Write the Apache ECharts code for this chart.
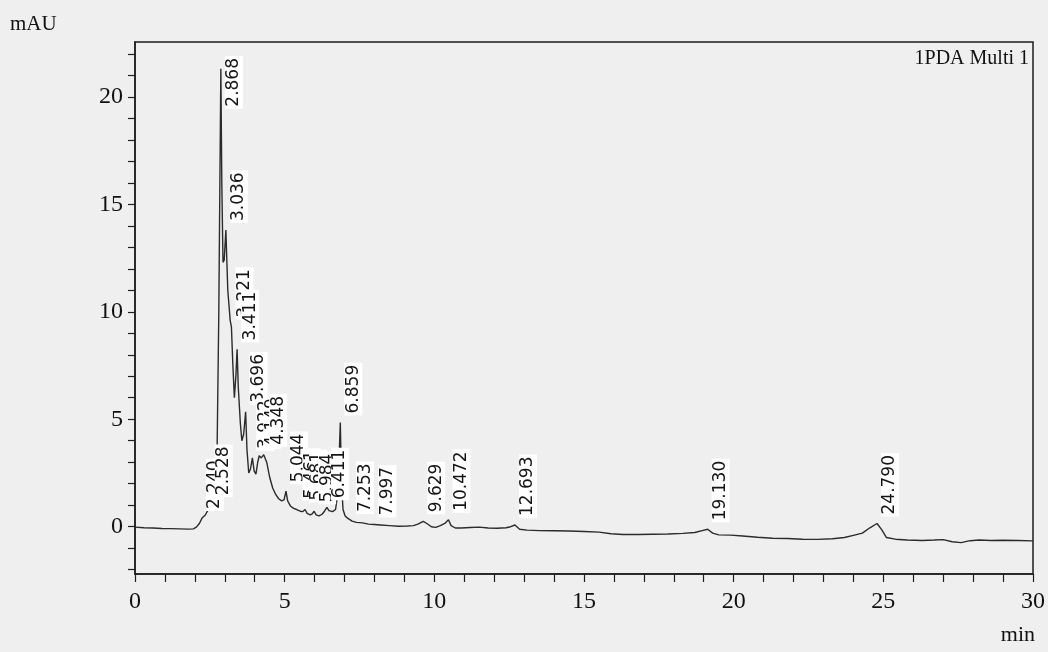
<!DOCTYPE html>
<html>
<head>
<meta charset="utf-8">
<title>1PDA Multi 1 chromatogram</title>
<script src="https://cdn.jsdelivr.net/npm/echarts@6/dist/echarts.min.js"></script>
<style>
  html, body { margin: 0; padding: 0; background: #efefef; }
  #chart { width: 1048px; height: 652px; }
</style>
</head>
<body>
<div id="chart"></div>
<script>
// Detector trace: retention time (min) and absorbance (mAU)
const retentionTime = [
  0.0, 0.3, 0.6, 0.9, 1.2, 1.5, 1.8, 1.95, 2.05, 2.15, 2.24, 2.35, 2.45, 2.528, 2.60, 2.68, 2.74, 2.80,
  2.868, 2.90, 2.94, 2.98, 3.036, 3.10, 3.18, 3.221, 3.27, 3.32, 3.37, 3.411, 3.45, 3.52, 3.57, 3.63,
  3.696, 3.74, 3.80, 3.86, 3.922, 3.98, 4.04, 4.10, 4.149, 4.22, 4.30, 4.348, 4.40, 4.50, 4.60, 4.70,
  4.80, 4.90, 4.98, 5.044, 5.10, 5.20, 5.30, 5.40, 5.461, 5.52, 5.60, 5.681, 5.75, 5.85, 5.92, 5.984,
  6.05, 6.15, 6.25, 6.33, 6.411, 6.48, 6.60, 6.70, 6.78, 6.859, 6.90, 6.95, 7.02, 7.10, 7.253, 7.40,
  7.60, 7.80, 7.997, 8.2, 8.5, 8.8, 9.1, 9.3, 9.45, 9.629, 9.75, 9.90, 10.05, 10.2, 10.35, 10.472,
  10.56, 10.7, 10.9, 11.2, 11.5, 11.8, 12.1, 12.4, 12.55, 12.693, 12.85, 13.1, 13.5, 14.0, 14.5, 15.0,
  15.5, 15.9, 16.3, 16.8, 17.3, 17.8, 18.3, 18.7, 18.95, 19.13, 19.3, 19.5, 19.9, 20.3, 20.8, 21.3,
  21.8, 22.3, 22.8, 23.3, 23.7, 24.0, 24.3, 24.55, 24.79, 24.95, 25.1, 25.4, 25.8, 26.3, 26.7, 27.0,
  27.3, 27.6, 27.9, 28.2, 28.6, 29.0, 29.5, 30.0
];
const absorbance = [
  -0.02, -0.05, -0.06, -0.08, -0.09, -0.10, -0.11, -0.10, -0.02, 0.15, 0.40, 0.55, 0.80, 1.05, 1.4, 2.2, 3.3, 10.0,
  21.3, 16.0, 12.3, 12.4, 13.8, 11.0, 9.6, 9.3, 7.5, 6.0, 7.0, 8.25, 6.5, 4.8, 4.0, 4.3,
  5.35, 3.6, 2.5, 2.7, 3.2, 2.6, 2.45, 3.0, 3.3, 3.2, 3.35, 3.4, 3.0, 2.3, 1.8, 1.5,
  1.30, 1.20, 1.25, 1.65, 1.20, 0.95, 0.85, 0.80, 0.88, 0.72, 0.70, 0.80, 0.62, 0.55, 0.60, 0.72,
  0.55, 0.50, 0.58, 0.72, 0.90, 0.75, 0.70, 0.80, 1.6, 4.85, 2.0, 0.8, 0.50, 0.40, 0.26, 0.20,
  0.18, 0.12, 0.10, 0.08, 0.05, 0.02, 0.03, 0.05, 0.12, 0.25, 0.15, 0.00, -0.03, 0.05, 0.15, 0.32,
  0.05, -0.06, -0.06, -0.04, -0.02, -0.06, -0.07, -0.05, 0.0, 0.08, -0.12, -0.16, -0.18, -0.19, -0.20, -0.22,
  -0.25, -0.33, -0.36, -0.36, -0.35, -0.34, -0.31, -0.27, -0.18, -0.12, -0.30, -0.38, -0.39, -0.43, -0.49, -0.54,
  -0.55, -0.58, -0.59, -0.56, -0.50, -0.40, -0.30, -0.05, 0.15, -0.15, -0.50, -0.58, -0.62, -0.64, -0.62, -0.60,
  -0.70, -0.74, -0.65, -0.62, -0.64, -0.63, -0.64, -0.66
];

// Integrated peaks (retention time, min)
const peakTimes = [
  2.240, 2.528, 2.868, 3.036, 3.221, 3.411, 3.696, 3.922, 4.149, 4.348, 5.044, 5.461,
  5.681, 5.984, 6.411, 6.859, 7.253, 7.997, 9.629, 10.472, 12.693, 19.130, 24.790
];

// Axis ticks
const timeLabels = [0, 5, 10, 15, 20, 25, 30];
const mauLabels = [0, 5, 10, 15, 20];
const mauTicks = [-2, -1, 0, 1, 2, 3, 4, 5, 6, 7, 8, 9, 10, 11, 12, 13, 14, 15, 16, 17, 18, 19, 20, 21, 22];

const channelName = '1PDA Multi 1';

const trace = retentionTime.map((t, i) => [t, absorbance[i]]);
const peakPoints = peakTimes.map(t => {
  const idx = retentionTime.findIndex(x => Math.abs(x - t) < 1e-6);
  return [t, absorbance[idx]];
});

const labelFont = '17px "DejaVu Sans"';
const measureCtx = document.createElement('canvas').getContext('2d');
measureCtx.font = labelFont;

const serif = '"Liberation Serif", "Times New Roman", serif';
const chart = echarts.init(document.getElementById('chart'), null, { renderer: 'canvas' });

chart.setOption({
  animation: false,
  backgroundColor: '#efefef',
  grid: {
    left: 135, right: 13, top: 42, bottom: 78,
    show: true, borderColor: '#1e1e1e', borderWidth: 1.5, backgroundColor: 'transparent'
  },
  legend: {
    data: [{ name: channelName, icon: 'none' }],
    right: 14, top: 44, itemWidth: 0, itemGap: 0,
    textStyle: { fontFamily: serif, fontSize: 20, color: '#111' }
  },
  xAxis: {
    type: 'value', min: 0, max: 30, interval: 5,
    axisLine: { show: true, onZero: false, lineStyle: { color: '#1e1e1e', width: 1.5 } },
    axisTick: { show: true, length: 8, lineStyle: { color: '#1e1e1e', width: 1.2 } },
    minorTick: { show: true, splitNumber: 5, length: 8, lineStyle: { color: '#1e1e1e', width: 1.2 } },
    axisLabel: {
      customValues: timeLabels, margin: 16, fontFamily: serif, fontSize: 24, color: '#111'
    },
    splitLine: { show: false }
  },
  yAxis: {
    type: 'value', min: -2.2, max: 22.55,
    axisLine: { show: true, onZero: false, lineStyle: { color: '#1e1e1e', width: 1.5 } },
    axisTick: { show: true, customValues: mauTicks, length: 7, lineStyle: { color: '#1e1e1e', width: 1.2 } },
    axisLabel: {
      customValues: mauLabels, margin: 12, fontFamily: serif, fontSize: 24, color: '#111'
    },
    splitLine: { show: false }
  },
  graphic: [
    { type: 'text', left: 10, top: 14, style: { text: 'mAU', font: '21px ' + serif, fill: '#111' } },
    { type: 'text', right: 13, top: 624, style: { text: 'min', font: '22px ' + serif, fill: '#111' } }
  ],
  series: [
    {
      name: channelName,
      type: 'line',
      data: trace,
      symbol: 'none',
      lineStyle: { color: '#2b2b2b', width: 1.4 },
      z: 2
    },
    {
      name: 'peaks',
      type: 'custom',
      data: peakPoints,
      z: 5,
      clip: false,
      renderItem: function (params, api) {
        const t = api.value(0);
        const p = api.coord([t, api.value(1)]);
        const text = t.toFixed(3);
        const len = measureCtx.measureText(text).width + 4;
        const top = params.coordSys.y + 14;
        let y = p[1] - 7;
        let align = 'left';
        if (y - len < top) { y = top; align = 'right'; }
        return {
          type: 'text',
          x: p[0] + 13,
          y: y,
          rotation: Math.PI / 2,
          style: {
            text: text,
            font: labelFont,
            fill: '#151515',
            align: align,
            verticalAlign: 'middle',
            backgroundColor: '#ffffff',
            padding: [1, 2, 0, 2]
          }
        };
      }
    }
  ]
});
</script>
</body>
</html>
